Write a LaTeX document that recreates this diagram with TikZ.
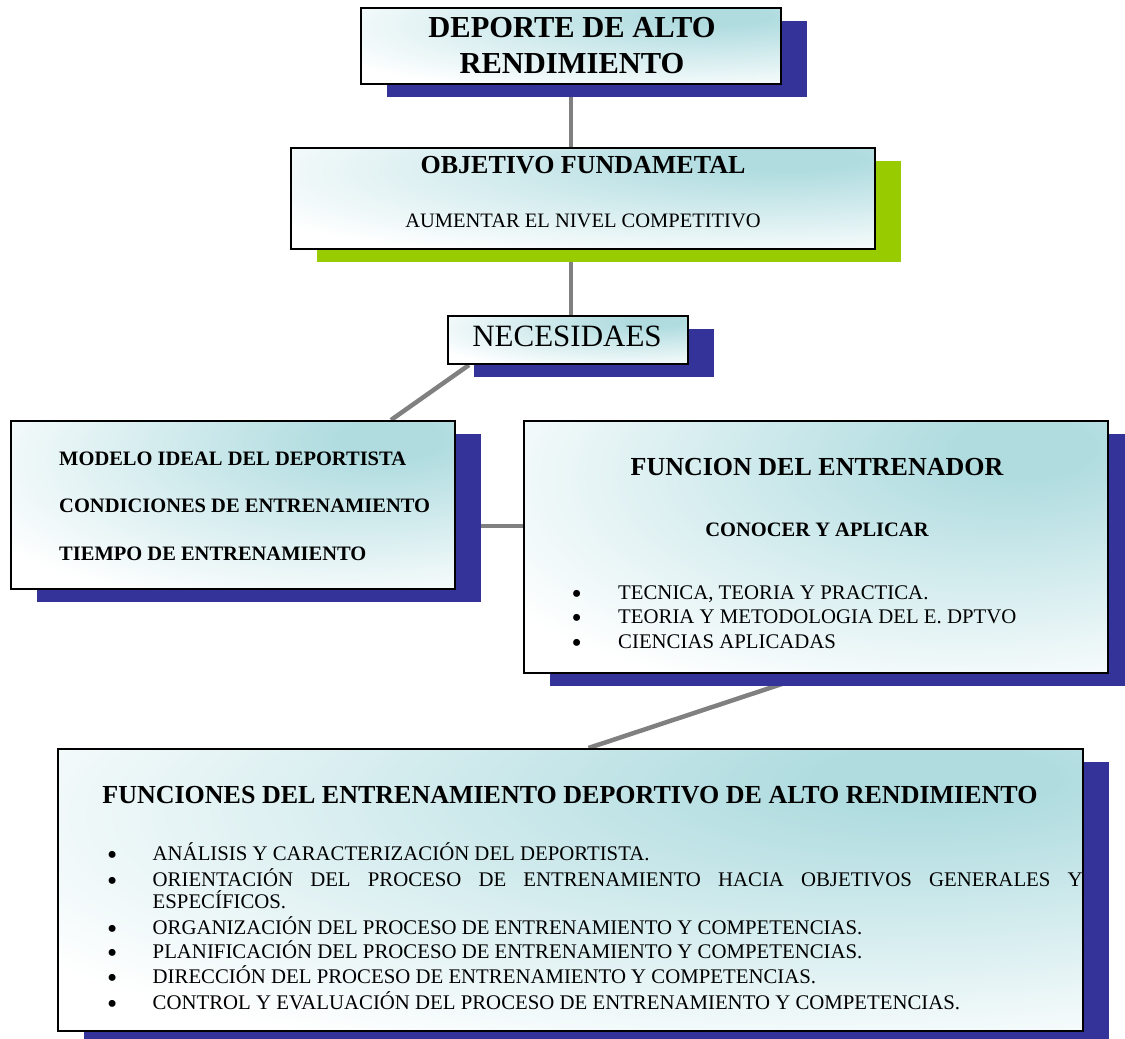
\documentclass[tikz,border=0pt]{standalone}
\usepackage{fontspec}
\setmainfont{Liberation Serif}
\usetikzlibrary{shadows,backgrounds}
\definecolor{shadowblue}{HTML}{333399}
\definecolor{shadowgreen}{HTML}{99CC00}
\definecolor{boxcyan}{HTML}{B0DCE0}
\definecolor{linkgray}{HTML}{808080}
\pgfdeclareradialshading{cornerglow}{\pgfpoint{19bp}{21bp}}{color(0bp)=(boxcyan); color(6bp)=(boxcyan); color(44bp)=(white); color(100bp)=(white)}
\newcommand\itembullet[1]{\makebox[#1][l]{\smash{\raisebox{-4pt}{\fontsize{29}{24}\selectfont\textbullet}}}}
\tikzset{
    concept box/.style = {
        shape = rectangle,
        draw  = black,
        line width = 2pt,
        shade,
        shading = cornerglow,
        inner sep = 0pt,
        drop shadow = {shadow xshift=26pt, shadow yshift=-13pt, fill=#1, opacity=1}
    },
    big head/.style = {
        font = \fontsize{30.5}{36}\selectfont\bfseries,
        anchor = base,
        inner sep = 0pt
    },
    head/.style = {
        font = \fontsize{26}{30}\selectfont\bfseries,
        anchor = base,
        inner sep = 0pt
    },
    sub head/.style = {
        font = \fontsize{20.5}{24}\selectfont\bfseries,
        anchor = base,
        inner sep = 0pt
    },
    plain text/.style = {
        font = \fontsize{20.5}{24}\selectfont,
        anchor = base,
        inner sep = 0pt
    },
    item text/.style = {
        font = \fontsize{20.8}{24}\selectfont,
        anchor = base west,
        inner sep = 0pt
    },
    link/.style = {
        draw = linkgray,
        line width = 4.5pt
    }
}

\begin{document}
\begin{tikzpicture}[x=1pt, y=-1pt]
      \useasboundingbox (0,0) rectangle (1125,1039);

      % boxes
      \node at (571,46) [concept box = shadowblue, minimum width=420pt, minimum height=76pt] (alto) {};
      \node at (583,198.5) [concept box = shadowgreen, minimum width=584pt, minimum height=101pt] (objetivo) {};
      \node at (568,340) [concept box = shadowblue, minimum width=240pt, minimum height=48pt] (necesidades) {};
      \node at (233,505) [concept box = shadowblue, minimum width=444pt, minimum height=168pt] (modelo) {};
      \node at (816,547) [concept box = shadowblue, minimum width=584pt, minimum height=252pt] (entrenador) {};
      \node at (570.5,890) [concept box = shadowblue, minimum width=1025pt, minimum height=282pt] (funciones) {};

      % connectors
      \begin{scope}[on background layer]
        \draw[link] (alto.south) -- (alto.south |- objetivo.north);
        \draw[link] (alto.south |- objetivo.south) -- (alto.south |- necesidades.north);
        \draw[link] ([xshift=22pt]necesidades.south west) -- ([xshift=-65pt]modelo.north east);
        \path (modelo.east) -- coordinate[midway] (mid) (entrenador.west);
        \draw[link] (modelo.east |- mid) -- (entrenador.west |- mid);
        \draw[link] ([xshift=-4pt]entrenador.south) -- ([xshift=18pt]funciones.north);
      \end{scope}

      % texts
      \node at (572,37) [big head] (altoA) {DEPORTE DE ALTO};
      \node at (572,73) [big head] (altoB) {RENDIMIENTO};

      \node at (583,173) [head] (objA) {OBJETIVO FUNDAMETAL};
      \node at (583,227) [plain text] (objB) {AUMENTAR EL NIVEL COMPETITIVO};

      \node at (567,346) [plain text, font=\fontsize{31}{36}\selectfont] (necT) {NECESIDAES};

      \node at (59,465) [sub head, anchor=base west] (modA) {MODELO IDEAL DEL DEPORTISTA};
      \node at (59,512) [sub head, anchor=base west] (modB) {CONDICIONES DE ENTRENAMIENTO};
      \node at (59,560) [sub head, anchor=base west] (modC) {TIEMPO DE ENTRENAMIENTO};

      \node at (817,475) [head] (entA) {FUNCION DEL ENTRENADOR};
      \node at (817,536) [sub head] (entB) {CONOCER Y APLICAR};
      \node at (571.5,599) [item text] (entC) {\itembullet{46.5pt}TECNICA, TEORIA Y PRACTICA.};
      \node at (571.5,623.5) [item text] (entD) {\itembullet{46.5pt}TEORIA Y METODOLOGIA DEL E. DPTVO};
      \node at (571.5,648) [item text] (entE) {\itembullet{46.5pt}CIENCIAS APLICADAS};

      \node at (570,803) [head] (funA) {FUNCIONES DEL ENTRENAMIENTO DEPORTIVO DE ALTO RENDIMIENTO};
      \node at (107,860) [item text] (funB) {\itembullet{45.5pt}ANÁLISIS Y CARACTERIZACIÓN DEL DEPORTISTA.};
      \node at (107,886.5) [item text] (funC) {\itembullet{45.5pt}\makebox[930pt][s]{ORIENTACIÓN DEL PROCESO DE ENTRENAMIENTO HACIA OBJETIVOS GENERALES Y}};
      \node at (152.5,908) [item text] (funD) {ESPECÍFICOS.};
      \node at (107,934) [item text] (funE) {\itembullet{45.5pt}ORGANIZACIÓN DEL PROCESO DE ENTRENAMIENTO Y COMPETENCIAS.};
      \node at (107,958) [item text] (funF) {\itembullet{45.5pt}PLANIFICACIÓN DEL PROCESO DE ENTRENAMIENTO Y COMPETENCIAS.};
      \node at (107,983) [item text] (funG) {\itembullet{45.5pt}DIRECCIÓN DEL PROCESO DE ENTRENAMIENTO Y COMPETENCIAS.};
      \node at (107,1009) [item text] (funH) {\itembullet{45.5pt}CONTROL Y EVALUACIÓN DEL PROCESO DE ENTRENAMIENTO Y COMPETENCIAS.};
    \end{tikzpicture}
\end{document}
